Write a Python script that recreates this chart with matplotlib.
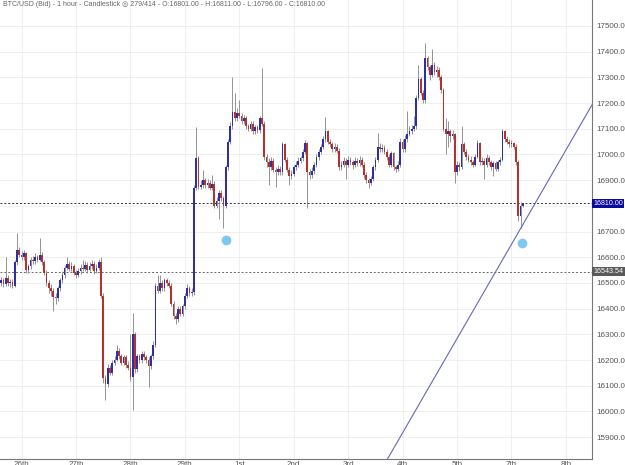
import numpy as np
import matplotlib
matplotlib.use("Agg")
import matplotlib.pyplot as plt

plt.rcParams['font.family'] = ['Liberation Sans', 'DejaVu Sans']

# hourly BTC/USD (bid) closes, highs and lows; open = previous close
first_open = 16500
closes = [
    16510, 16495, 16520, 16500, 16505, 16490, 16580, 16628, 16610, 16600, 16615, 16550,
    16565, 16590, 16585, 16600, 16590, 16610, 16580, 16540, 16500, 16480, 16470, 16445,
    16440, 16480, 16510, 16530, 16560, 16575, 16555, 16565, 16540, 16530, 16545, 16560,
    16555, 16570, 16550, 16565, 16575, 16545, 16560, 16580, 16450, 16130, 16105, 16170,
    16150, 16190, 16200, 16235, 16215, 16190, 16210, 16180, 16170, 16135, 16300, 16165,
    16215, 16200, 16225, 16210, 16200, 16175, 16215, 16260, 16490, 16470, 16500, 16480,
    16510, 16500, 16490, 16420, 16370, 16360, 16400, 16380, 16410, 16450, 16480, 16460,
    16465, 16870, 16985, 16875, 16880, 16900, 16880, 16890, 16870, 16885, 16800, 16820,
    16850, 16830, 16800, 16950, 17050, 17110, 17165, 17140, 17160, 17150, 17130, 17140,
    17110, 17100, 17120, 17090, 17105, 17095, 17140, 17120, 16990, 16970, 16950, 16975,
    16940, 16930, 16945, 16930, 17040, 16980, 16940, 16915, 16925, 16950, 16960, 16975,
    16985, 17010, 17045, 16930, 16920, 16935, 16960, 16990, 17010, 17030, 17060, 17090,
    17050, 17040, 17020, 17030, 17015, 16950, 16960, 16975, 16960, 16980, 16970, 16960,
    16975, 16965, 16980, 16960, 16920, 16900, 16890, 16905, 16950, 16980, 17030, 17020,
    17025, 17010, 16990, 16960, 17005, 16950, 16945, 16960, 17050, 17020, 17060, 17080,
    17090, 17100, 17110, 17220, 17295, 17240, 17210, 17375, 17340, 17310, 17350, 17320,
    17330, 17300, 17250, 17100, 17080, 17090, 17070, 17080, 16930, 16960, 16950, 17040,
    17010, 16990, 16980, 16970, 16960, 16990, 17045, 16970, 16975, 16960, 16985, 16970,
    16950, 16965, 16945, 16970, 16980, 17090, 17060, 17050, 17040, 17045, 17030, 16970,
    16760, 16801, 16810,
]
highs = [
    16525, 16520, 16600, 16530, 16515, 16515, 16590, 16695, 16640, 16625, 16630, 16620,
    16575, 16600, 16605, 16615, 16610, 16675, 16620, 16590, 16550, 16510, 16495, 16480,
    16460, 16490, 16520, 16545, 16570, 16600, 16585, 16580, 16575, 16550, 16560, 16575,
    16590, 16585, 16580, 16580, 16590, 16585, 16575, 16595, 16600, 16460, 16140, 16185,
    16180, 16200, 16215, 16260, 16245, 16225, 16220, 16220, 16195, 16300, 16385, 16310,
    16225, 16225, 16235, 16235, 16220, 16210, 16225, 16275, 16500, 16530, 16530, 16510,
    16520, 16520, 16510, 16500, 16430, 16385, 16410, 16410, 16420, 16460, 16495, 16490,
    16480, 16880, 17105, 16995, 16900, 16940, 16910, 16905, 16900, 16920, 16895, 16835,
    16860, 16860, 16840, 16960, 17060, 17125, 17300, 17240, 17180, 17210, 17160, 17155,
    17150, 17120, 17130, 17130, 17115, 17115, 17150, 17335, 17130, 17000, 16985, 16990,
    16985, 16950, 16960, 16955, 17050, 17045, 16990, 16950, 16940, 16960, 16975, 16990,
    16995, 17020, 17055, 17050, 16945, 16950, 16970, 17000, 17020, 17040, 17070, 17145,
    17095, 17060, 17050, 17045, 17040, 17025, 16975, 16990, 16985, 16995, 16990, 16980,
    16990, 16985, 16995, 16990, 16970, 16930, 16910, 16915, 16960, 16990, 17085, 17045,
    17040, 17035, 17020, 17000, 17015, 17010, 16960, 16975, 17065, 17060, 17075, 17170,
    17110, 17115, 17150, 17230, 17350, 17300, 17250, 17435, 17385, 17350, 17410, 17360,
    17345, 17340, 17310, 17260, 17140, 17130, 17100, 17095, 17085, 16975, 16970, 17110,
    17050, 17020, 17000, 16995, 16980, 17000, 17055, 17050, 16990, 16985, 17000, 16995,
    16980, 16975, 16975, 16980, 16990, 17100, 17095, 17070, 17060, 17055, 17050, 17040,
    16980, 16815, 16811,
]
lows = [
    16490, 16485, 16490, 16490, 16485, 16480, 16485, 16570, 16600, 16590, 16590, 16540,
    16540, 16555, 16575, 16575, 16580, 16585, 16570, 16530, 16490, 16460, 16450, 16390,
    16420, 16430, 16470, 16500, 16520, 16550, 16545, 16545, 16530, 16520, 16525, 16535,
    16545, 16545, 16540, 16545, 16555, 16535, 16540, 16550, 16440, 16110, 16045, 16095,
    16140, 16140, 16180, 16195, 16205, 16180, 16180, 16170, 16160, 16120, 16005, 16150,
    16155, 16190, 16190, 16200, 16190, 16095, 16165, 16205, 16250, 16460, 16460, 16470,
    16470, 16490, 16480, 16410, 16360, 16340, 16350, 16370, 16370, 16400, 16440, 16450,
    16450, 16455, 16860, 16865, 16865, 16870, 16870, 16870, 16860, 16860, 16790, 16790,
    16750, 16820, 16715, 16790, 16940, 17040, 17100, 17130, 17130, 17140, 17120, 17120,
    17100, 17090, 17090, 17080, 17080, 17085, 17085, 17110, 16980, 16950, 16880, 16940,
    16930, 16875, 16920, 16920, 16920, 16970, 16930, 16880, 16905, 16915, 16940, 16950,
    16965, 16975, 17000, 16790, 16905, 16910, 16925, 16950, 16980, 17000, 17020, 17050,
    17040, 17030, 17010, 17010, 17005, 16940, 16940, 16950, 16905, 16950, 16960, 16945,
    16950, 16955, 16955, 16950, 16910, 16890, 16870, 16880, 16895, 16940, 16970, 17010,
    17010, 17000, 16980, 16950, 16950, 16940, 16930, 16935, 16950, 17010, 17010, 17050,
    17070, 17080, 17090, 17100, 17210, 17230, 17200, 17200, 17330, 17290, 17300, 17310,
    17300, 17290, 17240, 17090, 17000, 17030, 17050, 17060, 16890, 16920, 16935, 16945,
    17000, 16980, 16970, 16960, 16950, 16955, 16985, 16960, 16960, 16905, 16950, 16960,
    16940, 16915, 16935, 16935, 16960, 16975, 17050, 17040, 17030, 17030, 17020, 16960,
    16740, 16712, 16796,
]

day_labels = ["26th", "27th", "28th", "29th", "1st", "2nd", "3rd", "4th", "5th", "7th", "8th"]
day_start_bar = 9          # bar index of the first labelled midnight
bars_per_day = 24

last_close = 16810.00
ref_level = 16543.54
trend_x = [170.6, 260.5]
trend_y = [15819, 17193]
marker_x = [99, 229.5]
marker_y = [16667, 16654]

closes = np.array(closes, dtype=float)
highs = np.array(highs, dtype=float)
lows = np.array(lows, dtype=float)
opens = np.concatenate([[first_open], closes[:-1]])
x = np.arange(len(closes))

fig = plt.figure(figsize=(6.25, 4.65), dpi=100)
ax = fig.add_axes([0, 6 / 465, 592 / 625, 459 / 465])

up = closes >= opens
body_col = np.where(up, "#2e2eaa", "#b8302c")
ax.vlines(x, lows, highs, color="#8c8c8c", linewidth=0.65, zorder=2)
ax.bar(x, np.maximum(np.abs(closes - opens), 2), bottom=np.minimum(opens, closes),
       width=0.75, color=body_col, linewidth=0, zorder=3)

ax.axhline(last_close, color="#333333", linewidth=0.7, linestyle=(0, (2, 2)), zorder=1)
ax.axhline(ref_level, color="#666666", linewidth=0.7, linestyle=(0, (2, 2)), zorder=1)
ax.axline((trend_x[0], trend_y[0]), (trend_x[1], trend_y[1]), color="#6767b8", linewidth=0.8, zorder=4)
ax.plot(marker_x, marker_y, "o", color="#7cc8f0", markersize=7, markeredgewidth=0, zorder=5)

ax.set_xlim(-0.5, 260.5)
ax.set_ylim(15815, 17601)

ax.set_xticks([day_start_bar + bars_per_day * k for k in range(len(day_labels))])
ax.set_xticklabels(day_labels)
yticks = np.arange(15900, 17600, 100)
ax.set_yticks(yticks)
# the 16800 label sits under the last-price box
ax.set_yticklabels(["" if v == 16800 else f"{v:.2f}" for v in yticks])
ax.yaxis.tick_right()
ax.tick_params(axis="both", length=0, labelsize=5.8, labelcolor="#555555")
ax.tick_params(axis="y", pad=3)
ax.tick_params(axis="x", pad=1.5)
ax.grid(True, color="#ececec", linewidth=0.6, zorder=0)
ax.set_axisbelow(True)
for side in ["left", "top"]:
    ax.spines[side].set_visible(False)
for side in ["right", "bottom"]:
    ax.spines[side].set_color("#777777")
    ax.spines[side].set_linewidth(0.8)

# price boxes on the right axis
tr = ax.get_yaxis_transform()
ax.text(1.0025, last_close, f"{last_close:.2f}", transform=tr, fontsize=5.1, color="white",
        va="center", ha="left", zorder=6, clip_on=False,
        bbox=dict(boxstyle="square,pad=0.15", facecolor="#0a0a9e", edgecolor="none"))
ax.text(1.0025, ref_level, f"{ref_level:.2f}", transform=tr, fontsize=5.1, color="white",
        va="center", ha="left", zorder=6, clip_on=False,
        bbox=dict(boxstyle="square,pad=0.15", facecolor="#5a5a5a", edgecolor="none"))

fig.text(3 / 625, 1 - 5 / 465,
         "BTC/USD (Bid) - 1 hour - Candlestick \u25CE 279/414 - O:16801.00 - H:16811.00 - L:16796.00 - C:16810.00",
         fontsize=5.0, color="#666666", va="center", ha="left")

fig.savefig("out.png", dpi=100)
